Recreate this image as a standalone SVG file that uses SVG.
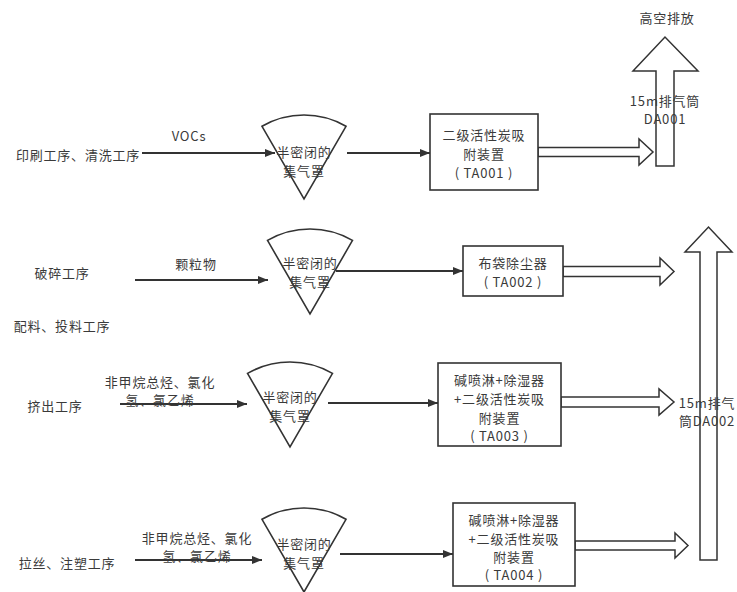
<svg xmlns="http://www.w3.org/2000/svg" width="737" height="592" viewBox="0 0 737 592">
<style>
text{font-family:"Noto Sans CJK SC","Liberation Sans",sans-serif;font-size:13px;letter-spacing:0.8px;fill:#3a3a3a;text-anchor:middle;dominant-baseline:central}
.box{fill:#fff;stroke:#333;stroke-width:1.6}
.fan{fill:#fff;stroke:#333;stroke-width:1.6}
.ln{fill:none;stroke:#333;stroke-width:1.8}
.hol{fill:#fff;stroke:#333;stroke-width:1.5;stroke-linejoin:miter}
</style>
<defs>
<marker id="ah" markerWidth="10" markerHeight="8" refX="10" refY="4" orient="auto" markerUnits="userSpaceOnUse">
<path d="M0,0 L10,4 L0,8 Z" fill="#333"/>
</marker>
</defs>
<rect width="737" height="592" fill="#fff"/>

<g id="connectors">
<line class="ln" x1="142" y1="153" x2="275" y2="153" marker-end="url(#ah)"/>
<line class="ln" x1="347" y1="153" x2="430" y2="153" marker-end="url(#ah)"/>
<line class="ln" x1="135" y1="280" x2="268" y2="280" marker-end="url(#ah)"/>
<line class="ln" x1="336" y1="271" x2="463" y2="271" marker-end="url(#ah)"/>
<line class="ln" x1="120" y1="404" x2="247" y2="404" marker-end="url(#ah)"/>
<line class="ln" x1="328" y1="403" x2="438" y2="403" marker-end="url(#ah)"/>
<line class="ln" x1="135" y1="560" x2="262" y2="560" marker-end="url(#ah)"/>
<line class="ln" x1="340" y1="554" x2="453" y2="554" marker-end="url(#ah)"/>
<polygon class="hol" points="538,147.5 639,147.5 639,139 653,152 639,165 639,156.5 538,156.5"/>
<polygon class="hol" points="563,266.5 660,266.5 660,258 674,271.5 660,285 660,276.5 563,276.5"/>
<polygon class="hol" points="561,397 659,397 659,389 674,402 659,415 659,407 561,407"/>
<polygon class="hol" points="575,541 675,541 675,533 688,545.5 675,558 675,550 575,550"/>
</g>

<g id="labels">
<text x="189" y="135">VOCs</text>
<text x="196" y="263">颗粒物</text>
<text x="160" y="381">非甲烷总烃、氯化</text>
<text x="160" y="399">氢、氯乙烯</text>
<text x="197" y="537">非甲烷总烃、氯化</text>
<text x="197" y="555">氢、氯乙烯</text>
</g>

<g id="src1"><text x="78" y="154">印刷工序、清洗工序</text></g>
<g id="src2"><text x="62" y="272">破碎工序</text></g>
<g id="src2b"><text x="62" y="325">配料、投料工序</text></g>
<g id="src3"><text x="55" y="405">挤出工序</text></g>
<g id="src4"><text x="67" y="562">拉丝、注塑工序</text></g>

<g id="hood1">
<path class="fan" d="M262,126.3 A84,84 0 0 1 346,126.3 L304,199 Z"/>
<text x="304" y="151">半密闭的</text><text x="304" y="170">集气罩</text>
</g>
<g id="hood2">
<path class="fan" d="M267.5,240.4 A85,85 0 0 1 352.5,240.4 L310,314 Z"/>
<text x="310" y="262">半密闭的</text><text x="310" y="281">集气罩</text>
</g>
<g id="hood3">
<path class="fan" d="M247.5,373.4 A85,85 0 0 1 332.5,373.4 L290,447 Z"/>
<text x="290" y="396">半密闭的</text><text x="290" y="415">集气罩</text>
</g>
<g id="hood4">
<path class="fan" d="M262,519.3 A84,84 0 0 1 346,519.3 L304,592 Z"/>
<text x="304" y="543">半密闭的</text><text x="304" y="562">集气罩</text>
</g>

<g id="ta001">
<rect class="box" x="430" y="114" width="108" height="76"/>
<text x="484" y="134">二级活性炭吸</text><text x="484" y="153">附装置</text><text x="484" y="172">( TA001 )</text>
</g>
<g id="ta002">
<rect class="box" x="463" y="246" width="100" height="50"/>
<text x="513" y="262">布袋除尘器</text><text x="513" y="281">( TA002 )</text>
</g>
<g id="ta003">
<rect class="box" x="438" y="363" width="123" height="83"/>
<text x="499.5" y="379">碱喷淋+除湿器</text><text x="499.5" y="398">+二级活性炭吸</text><text x="499.5" y="417">附装置</text><text x="499.5" y="435">( TA003 )</text>
</g>
<g id="ta004">
<rect class="box" x="453" y="503" width="122" height="83"/>
<text x="514" y="519">碱喷淋+除湿器</text><text x="514" y="538">+二级活性炭吸</text><text x="514" y="556">附装置</text><text x="514" y="574">( TA004 )</text>
</g>

<g id="da001">
<polygon class="hol" points="656,166 656,71 633,71 665,37 698,71 674,71 674,166"/>
<text x="665" y="100">15m排气筒</text><text x="665" y="118">DA001</text>
<text x="667" y="17">高空排放</text>
</g>
<g id="da002">
<polygon class="hol" points="700,560 700,252 685,252 708.5,227 732,252 717,252 717,560"/>
<text x="707" y="402">15m排气</text><text x="707" y="420">筒DA002</text>
</g>
</svg>
